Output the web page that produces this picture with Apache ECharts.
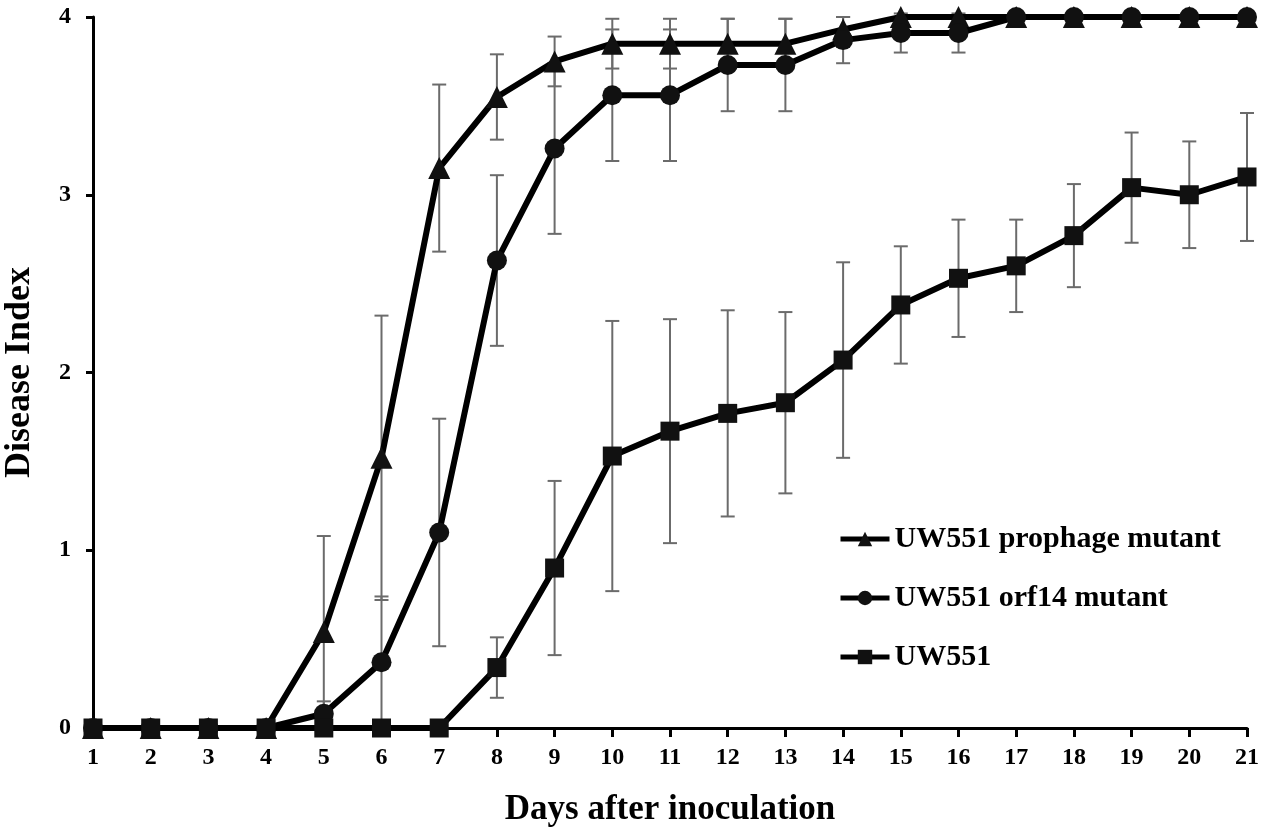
<!DOCTYPE html>
<html>
<head>
<meta charset="utf-8">
<script src="https://cdn.jsdelivr.net/npm/echarts@6/dist/echarts.min.js"></script>
<style>
html,body{margin:0;padding:0;background:#fff;}
#c{width:1267px;height:835px;}
</style>
</head>
<body>
<div id="c"></div>
<script>
var days = [1,2,3,4,5,6,7,8,9,10,11,12,13,14,15,16,17,18,19,20,21];
var yTicks = [0,1,2,3,4];
var names = ['UW551 prophage mutant','UW551 orf14 mutant','UW551'];
var prophage    = [0,0,0,0,0.54,1.52,3.15,3.55,3.75,3.85,3.85,3.85,3.85,3.93,4,4,4,4,4,4,4];
var prophageErr = [0,0,0,0,0.54,0.80,0.47,0.24,0.14,0.14,0.14,0.14,0.14,0.07,0,0,0,0,0,0,0];
var orf14       = [0,0,0,0,0.08,0.37,1.10,2.63,3.26,3.56,3.56,3.73,3.73,3.87,3.91,3.91,4,4,4,4,4];
var orf14Err    = [0,0,0,0,0.07,0.37,0.64,0.48,0.48,0.37,0.37,0.26,0.26,0.13,0.11,0.11,0,0,0,0,0];
var uw551       = [0,0,0,0,0,0,0,0.34,0.90,1.53,1.67,1.77,1.83,2.07,2.38,2.53,2.60,2.77,3.04,3.00,3.10];
var uw551Err    = [0,0,0,0,0,0,0,0.17,0.49,0.76,0.63,0.58,0.51,0.55,0.33,0.33,0.26,0.29,0.31,0.30,0.36];

var FONT = "'Liberation Serif','Times New Roman',serif";
function pts(vals){ return days.map(function(d,i){ return [d, vals[i]]; }); }
function errPts(vals, errs){ return days.map(function(d,i){ return [d, vals[i], errs[i]]; }); }

function errSeries(vals, errs){
  return {
    type:'custom', silent:true, z:1,
    data: errPts(vals, errs),
    encode:{x:0, y:1},
    renderItem:function(params, api){
      var x = api.value(0), v = api.value(1), e = api.value(2);
      if(!e) return null;
      var top = api.coord([x, v+e]);
      var bot = api.coord([x, v-e]);
      var w = 7;
      var st = {stroke:'#6b6b6b', lineWidth:2};
      return {type:'group', children:[
        {type:'line', shape:{x1:top[0],y1:top[1],x2:bot[0],y2:bot[1]}, style:st},
        {type:'line', shape:{x1:top[0]-w,y1:top[1],x2:top[0]+w,y2:top[1]}, style:st},
        {type:'line', shape:{x1:bot[0]-w,y1:bot[1],x2:bot[0]+w,y2:bot[1]}, style:st}
      ]};
    }
  };
}
function lineSeries(name, vals, symbol, size, z){
  return {
    name:name, type:'line', data:pts(vals), symbol:symbol, symbolSize:size, z:z,
    lineStyle:{color:'#000', width:6}, itemStyle:{color:'#111'},
    showAllSymbol:true, animation:false
  };
}

var chart = echarts.init(document.getElementById('c'));
chart.setOption({
  animation:false,
  backgroundColor:'#fff',
  grid:{left:93, right:20, top:17, bottom:107, containLabel:false, outerBoundsMode:'none'},
  legend:{
    orient:'vertical', left:833, top:519, itemGap:29, itemWidth:49, itemHeight:18,
    data:names,
    lineStyle:{width:5, color:'#000'},
    textStyle:{fontFamily:FONT, fontWeight:'bold', fontSize:30, color:'#000', lineHeight:30}
  },
  xAxis:{
    type:'value', min:1, max:21, interval:1,
    name:'Days after inoculation', nameLocation:'middle', nameGap:64,
    nameTextStyle:{fontFamily:FONT, fontWeight:'bold', fontSize:35, color:'#000'},
    axisLine:{lineStyle:{color:'#000', width:3}},
    axisTick:{length:9, lineStyle:{color:'#000', width:3}},
    axisLabel:{fontFamily:FONT, fontWeight:'bold', fontSize:24, color:'#000', margin:18},
    splitLine:{show:false}
  },
  yAxis:{
    type:'value', min:yTicks[0], max:yTicks[yTicks.length-1], interval:1,
    name:'Disease Index', nameLocation:'middle', nameGap:55,
    nameTextStyle:{fontFamily:FONT, fontWeight:'bold', fontSize:36, color:'#000'},
    axisLine:{show:true, lineStyle:{color:'#000', width:3}},
    axisTick:{show:true, length:7, lineStyle:{color:'#000', width:3}},
    axisLabel:{fontFamily:FONT, fontWeight:'bold', fontSize:24, color:'#000', margin:22},
    splitLine:{show:false}
  },
  series:[
    errSeries(prophage, prophageErr),
    errSeries(orf14, orf14Err),
    errSeries(uw551, uw551Err),
    lineSeries(names[0], prophage, 'triangle', 22, 3),
    lineSeries(names[1], orf14, 'circle', 20, 4),
    lineSeries(names[2], uw551, 'rect', 19, 5)
  ]
});
</script>
</body>
</html>
